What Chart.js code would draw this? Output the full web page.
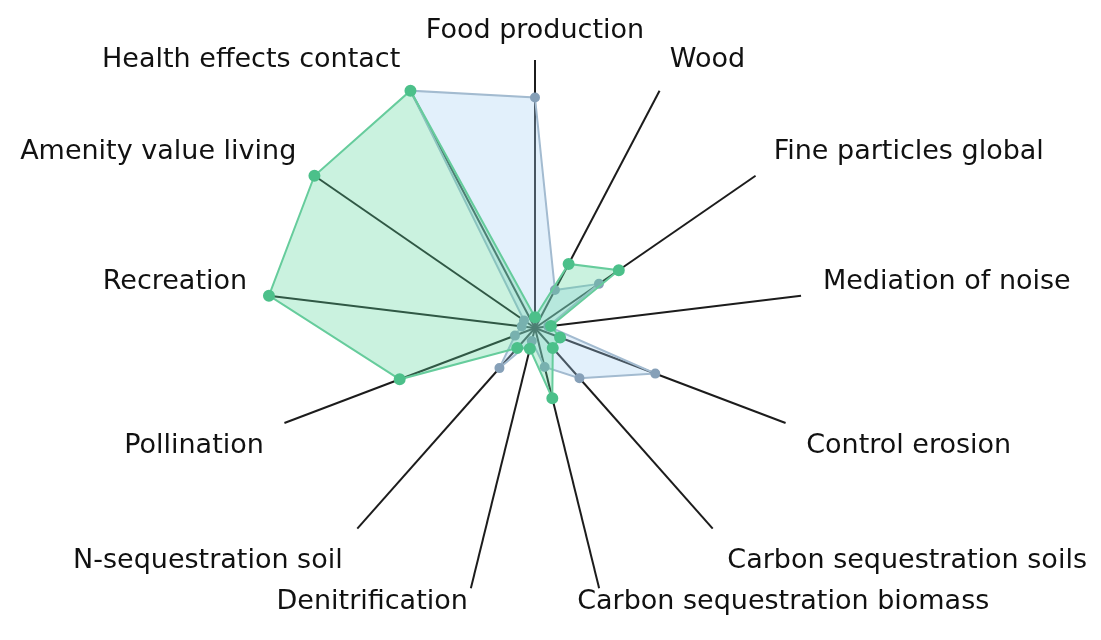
<!DOCTYPE html>
<html>
<head>
<meta charset="utf-8">
<script src="https://cdn.jsdelivr.net/npm/chart.js@4/dist/chart.umd.min.js"></script>
<style>
html,body{margin:0;padding:0;background:#fff;}
#wrap{width:1101px;height:640px;position:relative;}
</style>
</head>
<body>
<div id="wrap"><canvas id="c"></canvas></div>
<script>
const categories = ["Food production","Wood","Fine particles global","Mediation of noise","Control erosion","Carbon sequestration soils","Carbon sequestration biomass","Denitrification","N-sequestration soil","Pollination","Recreation","Amenity value living","Health effects contact"];
const greenValues = [0.04, 0.27, 0.38, 0.06, 0.10, 0.10, 0.27, 0.08, 0.10, 0.54, 1.0, 1.0, 1.0];
const blueValues  = [0.86, 0.16, 0.29, 0.05, 0.48, 0.25, 0.15, 0.05, 0.20, 0.08, 0.05, 0.05, 1.0];
const axisMax = 1;

const labelPlugin = {
  id: 'axisLabels',
  afterDraw(chart) {
    const s = chart.scales.r;
    const ctx = chart.ctx;
    ctx.save();
    ctx.font = '27px "DejaVu Sans"';
    ctx.fillStyle = '#111';
    const h = 27;
    categories.forEach((lab, i) => {
      const a = s.getIndexAngle(i);
      const sn = Math.sin(a), cs = Math.cos(a);
      let align = 'center';
      if (sn > 0.2) align = 'left'; else if (sn < -0.2) align = 'right';
      let x, y;
      if (cs < -0.9) {
        const e = s.getPointPosition(i, s.drawingArea);
        y = e.y + 14;
        x = align === 'left' ? e.x - 22 : e.x - 3;
      } else if (cs > 0.9) {
        const p = s.getPointPosition(i, s.drawingArea + 16);
        x = p.x; y = p.y - h / 2;
      } else {
        const p = s.getPointPosition(i, s.drawingArea + 22);
        x = p.x;
        y = p.y;
        if (cs > 0.05) y = p.y - h / 2 + 2; else if (cs < -0.05) y = p.y + h / 2 + 2;
      }
      ctx.textAlign = align;
      ctx.textBaseline = 'middle';
      ctx.fillText(lab, x, y);
    });
    ctx.restore();
  }
};

new Chart(document.getElementById('c'), {
  type: 'radar',
  data: {
    labels: categories,
    datasets: [
      {
        label: 'A',
        data: greenValues,
        borderColor: '#66cc9c',
        backgroundColor: 'rgba(90, 214, 155, 0.32)',
        borderWidth: 2,
        pointRadius: 5,
        pointBackgroundColor: '#4cc08a',
        pointBorderColor: '#4cc08a',
        fill: true
      },
      {
        label: 'B',
        data: blueValues,
        borderColor: '#a3bbd0',
        backgroundColor: 'rgba(165, 208, 242, 0.32)',
        borderWidth: 2,
        pointRadius: 4,
        pointBackgroundColor: '#86a0b8',
        pointBorderColor: '#86a0b8',
        fill: true
      }
    ]
  },
  options: {
    responsive: true,
    maintainAspectRatio: false,
    animation: false,
    layout: { padding: { left: 267, right: 298, top: 60, bottom: 44 } },
    plugins: { legend: { display: false }, tooltip: { enabled: false } },
    scales: {
      r: {
        min: 0,
        max: axisMax,
        ticks: { display: false },
        grid: { display: false },
        angleLines: { display: true, color: '#1c1c1c', lineWidth: 2 },
        pointLabels: { display: false }
      }
    }
  },
  plugins: [labelPlugin]
});
</script>
</body>
</html>
